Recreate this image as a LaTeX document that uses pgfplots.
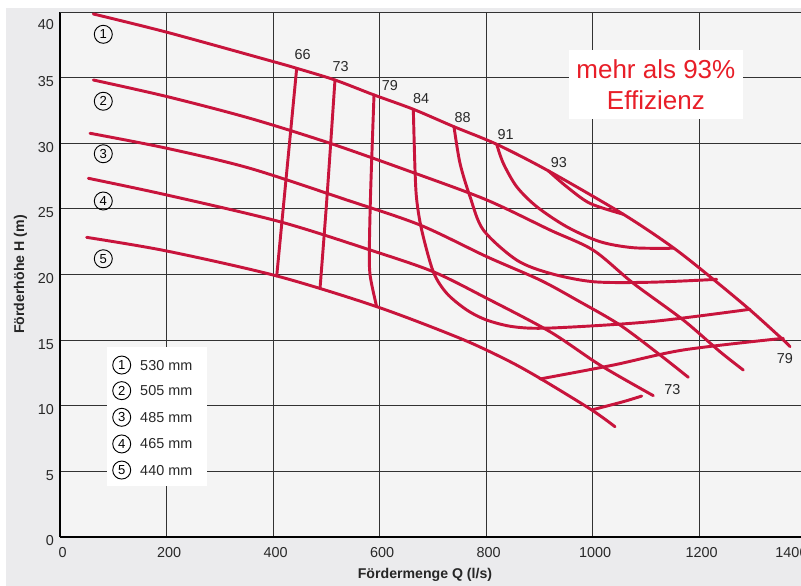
\documentclass[border=0pt]{standalone}
\usepackage{fontspec}
\setmainfont{Liberation Sans}
\usepackage{pgfplots}
\pgfplotsset{compat=1.18}
\definecolor{crim}{RGB}{200,20,60}
\definecolor{outerbg}{RGB}{235,235,237}
\definecolor{innerbg}{RGB}{244,244,244}
\definecolor{gridc}{RGB}{50,50,50}
\definecolor{txt}{RGB}{40,40,40}
\definecolor{effred}{RGB}{232,30,40}
\begin{document}
\begin{tikzpicture}
\fill[white] (-45pt,-36.75pt) rectangle (555.75pt,402.75pt);
\fill[outerbg] (-40.5pt,-36.75pt) rectangle (555.75pt,396.75pt);
\begin{axis}[
  at={(0,0)}, anchor=south west,
  width=559.125pt, height=393.75pt, scale only axis,
  xmin=0, xmax=1400, ymin=0, ymax=40,
  xtick={0,200,...,1200}, ytick={0,5,...,35},
  extra x ticks={1400},
  extra x tick style={grid=major, xticklabel style={xshift=-12.5pt}},
  extra y ticks={40},
  extra y tick style={grid=major, yticklabel style={yshift=-6.75pt}},
  grid=major,
  major grid style={gridc, line width=0.6pt},
  axis x line*=bottom, axis y line*=left,
  axis line style={black, line width=1.1pt, -},
  major tick length=0pt,
  axis background/.style={fill=innerbg},
  /pgf/number format/assume math mode=true,
  /pgf/number format/1000 sep={},
  ticklabel style={font=\fontsize{10.8}{12}\selectfont, text=txt},
  xticklabel style={yshift=-4.5pt, xshift=2pt},
  yticklabel style={yshift=-3pt, xshift=-1pt},
  xlabel={Fördermenge Q (l/s)},
  ylabel={Förderhöhe H (m)},
  every axis x label/.style={at={(axis description cs:0.4896,0)}, anchor=center, yshift=-28.5pt, font=\fontsize{10.6}{12}\selectfont\bfseries, text=black!85},
  every axis y label/.style={at={(axis description cs:-0.0529,0.5)}, anchor=center, rotate=90, font=\fontsize{10.6}{12}\selectfont\bfseries, text=black!85},
  every axis plot/.append style={crim, line width=2.2pt, line cap=round, line join=round, mark=none, solid},
]
% legend box and efficiency box
\fill[white] (axis cs:87.7,3.91) rectangle (axis cs:276.6,14.45);
\node[fill=white, text=effred, inner sep=0pt, minimum width=130.5pt, minimum height=51.75pt, align=center, font=\fontsize{19.5}{23.5}\selectfont] at (axis cs:1119,34.48) {mehr als 93\%\\Effizienz};

% H-Q curves
\addplot[smooth, tension=0.5] coordinates {(62.5,39.85)(201.5,38.45)(400.6,36.22)(444.5,35.71)(516.4,34.82)(589.7,33.68)(663.5,32.59)(739.9,31.26)(820.1,29.92)(917,27.9)(1057.8,24.59)(1151.7,22.04)(1226.9,19.63)(1295.8,17.30)(1358.3,15.01)(1370.9,14.5)};
\addplot[smooth, tension=0.5] coordinates {(62.5,34.82)(201.5,33.55)(356.8,31.90)(507.0,30.0)(663.5,27.76)(801.3,25.68)(920.2,23.39)(1001.5,21.85)(1076.6,19.33)(1170.5,16.53)(1239.4,14.12)(1283.2,12.72)};
\addplot[smooth, tension=0.5] coordinates {(56.3,30.76)(201.5,29.61)(356.8,28.09)(538.4,25.68)(676.1,23.77)(801.3,21.36)(901.4,19.58)(970.3,18.06)(1051.6,16.15)(1126.8,13.87)(1179.9,12.17)};
\addplot[smooth, tension=0.5] coordinates {(53.2,27.33)(200.4,26.06)(413.1,24.02)(582.2,21.87)(701.0,20.21)(801.3,18.19)(920.2,15.64)(1014.1,13.10)(1114.2,10.77)};
\addplot[smooth, tension=0.5] coordinates {(50.1,22.83)(200.4,21.79)(407.0,19.89)(594.7,17.55)(751.2,15.14)(838.9,13.49)(901.4,12.09)(998.5,9.68)(1042.3,8.4)};

% iso-efficiency lines
\addplot[sharp plot] coordinates {(444.5,35.71)(407.0,19.89)};
\addplot[smooth, tension=0.5] coordinates {(516.4,34.82)(501,25.68)(488.3,18.93)};
\addplot[smooth, tension=0.5] coordinates {(589.7,33.68)(583.5,26.5)(581.0,22.0)(582.5,19.9)(594.7,17.55)};
\addplot[smooth, tension=0.5] coordinates {(663.5,32.59)(666.7,27.96)(669.9,25.68)(679.2,23.39)(701.0,20.21)(726.2,18.57)(763.8,17.30)(801.3,16.53)(851.3,16.02)(920.2,15.92)(1108,16.40)(1295.8,17.35)};
\addplot[smooth, tension=0.5] coordinates {(739.9,31.26)(751.2,28.47)(770.0,25.93)(795.0,23.39)(857.6,21.10)(920.2,20.09)(1001.5,19.45)(1108.0,19.41)(1233.2,19.63)};
\addplot[smooth, tension=0.5] coordinates {(820.1,29.92)(832.5,28.47)(857.6,26.69)(895.2,25.17)(951.5,23.64)(1014.1,22.50)(1076.6,22.04)(1151.7,22.0)};
\addplot[smooth, tension=0.5] coordinates {(917,27.9)(951.5,26.69)(995.3,25.42)(1057.8,24.59)};
\addplot[smooth, tension=0.5] coordinates {(901.4,12.04)(1039.1,13.10)(1170.5,14.25)(1358.3,15.14)};
\addplot[smooth, tension=0.5] coordinates {(998.5,9.68)(1057.8,10.31)(1092.4,10.74)};

% efficiency labels
\begin{scope}[every node/.style={font=\fontsize{10.8}{12}\selectfont, text=txt, inner sep=0pt}]
\node at (axis cs:455.8,36.78) {66};
\node at (axis cs:527.2,35.83) {73};
\node at (axis cs:619.7,34.36) {79};
\node at (axis cs:678,33.37) {84};
\node at (axis cs:756.2,31.98) {88};
\node at (axis cs:837,30.68) {91};
\node at (axis cs:937,28.52) {93};
\node at (axis cs:1361.5,13.56) {79};
\node at (axis cs:1149.9,11.2) {73};
\end{scope}

% circled curve numbers
\begin{scope}[every node/.style={circle, draw=black, line width=0.7pt, minimum size=13.5pt, inner sep=0pt, font=\fontsize{9.8}{10}\selectfont}]
\node at (axis cs:81.3,38.3) {1};
\node at (axis cs:81.3,33.2) {2};
\node at (axis cs:81.3,29.2) {3};
\node at (axis cs:81.3,25.6) {4};
\node at (axis cs:81.3,21.2) {5};
\node at (axis cs:115.9,13.1) {1};
\node at (axis cs:115.9,11.15) {2};
\node at (axis cs:115.9,9.12) {3};
\node at (axis cs:115.9,7.09) {4};
\node at (axis cs:115.9,5.1) {5};
\end{scope}
\begin{scope}[every node/.style={anchor=west, inner sep=0pt, font=\fontsize{10.8}{12}\selectfont, text=txt}]
\node at (axis cs:150.2,13.1) {530 mm};
\node at (axis cs:150.2,11.15) {505 mm};
\node at (axis cs:150.2,9.12) {485 mm};
\node at (axis cs:150.2,7.09) {465 mm};
\node at (axis cs:150.2,5.1) {440 mm};
\end{scope}
\end{axis}
\pgfresetboundingbox
\path[use as bounding box] (-45pt,-36.75pt) rectangle (555.75pt,402.75pt);
\end{tikzpicture}
\end{document}
